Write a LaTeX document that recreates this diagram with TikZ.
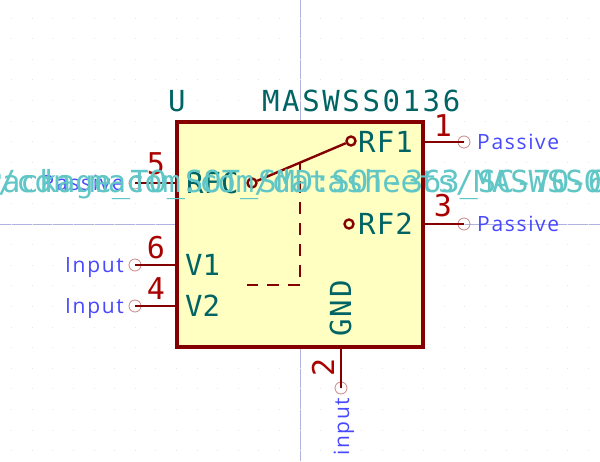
\documentclass[tikz,border=0pt]{standalone}
\usepackage{fontspec}
\usepackage{xcolor}
\usetikzlibrary{positioning}
\newfontfamily\monofont{DejaVu Sans Mono}
\newfontfamily\typefont[LetterSpace=8]{Open Sans}
\definecolor{symline}{RGB}{132,0,0}
\definecolor{symfill}{RGB}{255,255,194}
\definecolor{pinnumber}{RGB}{169,0,0}
\definecolor{fieldteal}{RGB}{0,100,100}
\definecolor{pinblue}{RGB}{72,72,255}
\definecolor{hiddencyan}{RGB}{96,198,198}
\definecolor{axisline}{RGB}{178,178,222}
\definecolor{pincircle}{RGB}{205,135,135}
\tikzset{
    pinline/.style={draw=symline, line width=2.4pt},
    pinend/.style={draw=pincircle, line width=0.8pt, circle, minimum size=12pt, inner sep=0pt},
    swdot/.style={draw=symline, line width=2.4pt, circle, minimum size=9pt, inner sep=0pt},
    pinnum/.style={text=pinnumber, font=\monofont\fontsize{30}{30}\selectfont, inner sep=0pt},
    pinname/.style={text=fieldteal, font=\monofont\fontsize{29}{29}\selectfont, inner sep=0pt},
    pintype/.style={text=pinblue, font=\typefont\fontsize{21}{21}\selectfont, inner sep=0pt},
    hidden/.style={text=hiddencyan, font=\monofont\fontsize{30.4}{30.4}\selectfont, inner sep=0pt}
}
\begin{document}
\begin{tikzpicture}[x=1pt, y=-1pt]
    \useasboundingbox (0,0) rectangle (600,461);
    \fill[white] (0,0) rectangle (600,461);
    % axes and grid
    \draw[axisline, line width=1pt] (300,0) -- (300,461);
    \draw[axisline, line width=1pt] (0,224) -- (600,224);
    \foreach \i in {-15,...,14} {
        \foreach \j in {-11,...,11} {
            \fill[black!10] (300+\i*20.6-0.5,224+\j*20.6-0.5) rectangle ++(1,1);
        }
    }

    % body
    \node [draw=symline, fill=symfill, line width=4pt, minimum width=246pt, minimum height=225pt, inner sep=0pt] (chip) at (300,234.5) {};
    \coordinate (p5in) at (177,183);
    \coordinate (p6in) at (177,265);
    \coordinate (p4in) at (177,306);
    \coordinate (p1in) at (423,142);
    \coordinate (p3in) at (423,224);
    \coordinate (p2in) at (341,347);

    % pins
    \node [pinend] (p5) at (135,183) {};
    \node [pinend] (p6) at (135,265) {};
    \node [pinend] (p4) at (135,306) {};
    \node [pinend] (p1) at (464,142) {};
    \node [pinend] (p3) at (464,224) {};
    \node [pinend] (p2) at (341,388) {};
    \draw [pinline] (p5.center) -- (p5in);
    \draw [pinline] (p6.center) -- (p6in);
    \draw [pinline] (p4.center) -- (p4in);
    \draw [pinline] (p1.center) -- (p1in);
    \draw [pinline] (p3.center) -- (p3in);
    \draw [pinline] (p2.center) -- (p2in);

    % switch
    \node [swdot] (rfc) at (252,183) {};
    \node [swdot] (rf1) at (351,141) {};
    \node [swdot] (rf2) at (349,224) {};
    \coordinate (dashcorner) at (300,285);
    \coordinate (dashend) at (247,285);
    \coordinate (dashtop) at (300,163);
    \draw [pinline] (rfc) -- (rf1);
    \draw [pinline, dash pattern=on 12pt off 9pt] (dashcorner) -- (dashend);
    \draw [pinline, dash pattern=on 12pt off 9pt, dash phase=3pt] (dashtop) -- (dashcorner);

    % pin names
    \node [pinname, anchor=base west] (nrf1) at (358,152) {\addfontfeature{LetterSpace=4}RF1};
    \node [pinname, anchor=base west] (nrf2) at (358,234) {\addfontfeature{LetterSpace=4}RF2};
    \node [pinname, anchor=base west] (nrfc) at (186,193) {RFC};
    \node [pinname, anchor=base west] (nv1) at (185,275) {V1};
    \node [pinname, anchor=base west] (nv2) at (185,316) {V2};
    \node [pinname, anchor=base west, rotate=90] (ngnd) at (351,337) {\addfontfeature{LetterSpace=8}GND};

    % pin numbers
    \node [pinnum, anchor=base] (n5) at (156,174) {5};
    \node [pinnum, anchor=base] (n6) at (156,258) {6};
    \node [pinnum, anchor=base] (n4) at (156,299) {4};
    \node [pinnum, anchor=base] (n1) at (443,136) {1};
    \node [pinnum, anchor=base] (n3) at (443,216) {3};
    \node [pinnum, anchor=base, rotate=90] (n2) at (334,367) {2};

    % pin types
    \node [pintype, anchor=base west] (t1) at (477,149) {Passive};
    \node [pintype, anchor=base west] (t3) at (477,231) {Passive};
    \node [pintype, anchor=base east] (t5) at (124,190) {Passive};
    \node [pintype, anchor=base east] (t6) at (124,272) {Input};
    \node [pintype, anchor=base east] (t4) at (124,313) {Input};
    \node [pintype, anchor=base west, rotate=90] (t2) at (349,456) {input};

    % fields
    \node [pinname, anchor=base west] (ref) at (168,111) {U};
    \node [pinname, anchor=base west] (val) at (262,111) {\addfontfeature{LetterSpace=9}MASWSS0136};
    \node [hidden, anchor=base] (foot) at (295,192) {Package\_TO\_SOT\_SMD:SOT-363\_SC-70-6};
    \node [hidden, anchor=base] (sheet) at (300,192) {https://cdn.macom.com/datasheets/MASWSS0136.pdf};
\end{tikzpicture}
\end{document}
